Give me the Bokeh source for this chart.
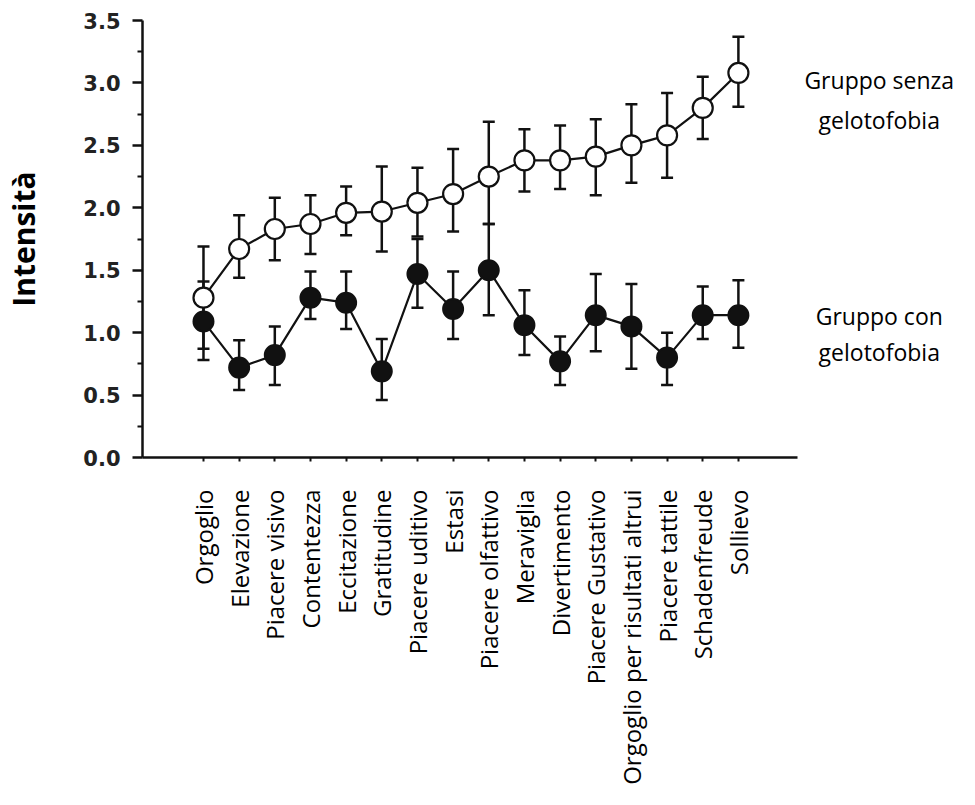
import math
from bokeh.plotting import figure
from bokeh.models import (ColumnDataSource, Whisker, TeeHead, Range1d, FixedTicker, Label)
from bokeh.embed import file_html
from bokeh.resources import INLINE

categories = ["Orgoglio", "Elevazione", "Piacere visivo", "Contentezza", "Eccitazione",
              "Gratitudine", "Piacere uditivo", "Estasi", "Piacere olfattivo", "Meraviglia",
              "Divertimento", "Piacere Gustativo", "Orgoglio per risultati altrui",
              "Piacere tattile", "Schadenfreude", "Sollievo"]

senza_mean = [1.28, 1.67, 1.83, 1.87, 1.96, 1.97, 2.04, 2.11, 2.25, 2.38, 2.38, 2.41, 2.50, 2.58, 2.80, 3.08]
senza_upper = [1.69, 1.94, 2.08, 2.10, 2.17, 2.33, 2.32, 2.47, 2.69, 2.63, 2.66, 2.71, 2.83, 2.92, 3.05, 3.37]
senza_lower = [0.87, 1.44, 1.58, 1.63, 1.78, 1.65, 1.77, 1.81, 1.87, 2.13, 2.15, 2.10, 2.20, 2.24, 2.55, 2.81]

con_mean = [1.09, 0.72, 0.82, 1.28, 1.24, 0.69, 1.47, 1.19, 1.50, 1.06, 0.77, 1.14, 1.05, 0.80, 1.14, 1.14]
con_upper = [1.41, 0.94, 1.05, 1.49, 1.49, 0.95, 1.75, 1.49, 1.87, 1.34, 0.97, 1.47, 1.39, 1.00, 1.37, 1.42]
con_lower = [0.78, 0.54, 0.58, 1.11, 1.03, 0.46, 1.20, 0.95, 1.14, 0.82, 0.58, 0.85, 0.71, 0.58, 0.95, 0.88]

y_ticks = [0.0, 0.5, 1.0, 1.5, 2.0, 2.5, 3.0, 3.5]

group_labels = [("Gruppo senza", 3.02), ("gelotofobia", 2.707),
                ("Gruppo con", 1.137), ("gelotofobia", 0.841)]

INK = "#111111"
xs = list(range(len(categories)))

src = ColumnDataSource(dict(x=xs, sm=senza_mean, su=senza_upper, sl=senza_lower,
                            cm=con_mean, cu=con_upper, cl=con_lower))

p = figure(width=959, height=789, output_backend="svg", toolbar_location=None,
           x_range=Range1d(-1.71, 21.2), y_range=Range1d(0, 3.5),
           min_border_left=142, min_border_right=0, min_border_top=20, min_border_bottom=332)
p.outline_line_color = None
p.xgrid.grid_line_color = None
p.ygrid.grid_line_color = None
p.background_fill_color = "white"

def head():
    return TeeHead(size=12, line_width=2.5, line_color=INK)

p.add_layout(Whisker(source=src, base="x", upper="cu", lower="cl", line_width=2.5,
                     line_color=INK, upper_head=head(), lower_head=head()))
p.add_layout(Whisker(source=src, base="x", upper="su", lower="sl", line_width=2.5,
                     line_color=INK, upper_head=head(), lower_head=head()))

p.line("x", "cm", source=src, line_width=2.2, line_color=INK)
p.scatter("x", "cm", source=src, marker="circle", size=20, fill_color=INK,
          line_color=INK, line_width=2)
p.line("x", "sm", source=src, line_width=2.2, line_color=INK)
p.scatter("x", "sm", source=src, marker="circle", size=20, fill_color="white",
          line_color=INK, line_width=2.2)

# x axis
xa = p.xaxis[0]
xa.bounds = (-1.71, 16.65)
xa.ticker = FixedTicker(ticks=xs)
xa.major_label_overrides = {i: c for i, c in enumerate(categories)}
xa.major_label_orientation = math.pi / 2
xa.major_label_text_font = "Open Sans"
xa.major_label_text_font_size = "24px"
xa.major_label_text_color = "black"
xa.major_label_standoff = 28
xa.major_tick_out = 4
xa.major_tick_in = 0
xa.minor_tick_out = 0
xa.minor_tick_in = 0
xa.axis_line_width = 2.5
xa.axis_line_color = INK
xa.major_tick_line_width = 2
xa.major_tick_line_color = INK

# y axis
ya = p.yaxis[0]
ya.ticker = FixedTicker(ticks=y_ticks, minor_ticks=[v + 0.25 for v in y_ticks[:-1]])
ya.major_label_overrides = {v: f"{v:.1f}" for v in y_ticks}
ya.major_label_text_font = "DejaVu Sans"
ya.major_label_text_font_style = "bold"
ya.major_label_text_font_size = "21px"
ya.major_label_text_color = "#222222"
ya.major_label_standoff = 12
ya.major_tick_out = 10
ya.major_tick_in = 0
ya.minor_tick_out = 5
ya.minor_tick_in = 0
ya.axis_line_width = 2.5
ya.axis_line_color = INK
ya.major_tick_line_width = 2.5
ya.minor_tick_line_width = 2
ya.major_tick_line_color = INK
ya.minor_tick_line_color = INK
ya.axis_label = "Intensità"
ya.axis_label_text_font = "Open Sans"
ya.axis_label_text_font_style = "bold"
ya.axis_label_text_font_size = "30px"
ya.axis_label_text_color = "black"
ya.axis_label_standoff = 36

for txt, yv in group_labels:
    p.add_layout(Label(x=18.95, y=yv, text=txt, text_align="center",
                       text_baseline="alphabetic", text_font="Open Sans",
                       text_font_size="23px", text_color="black"))

open("out.html", "w").write(file_html(p, INLINE))
